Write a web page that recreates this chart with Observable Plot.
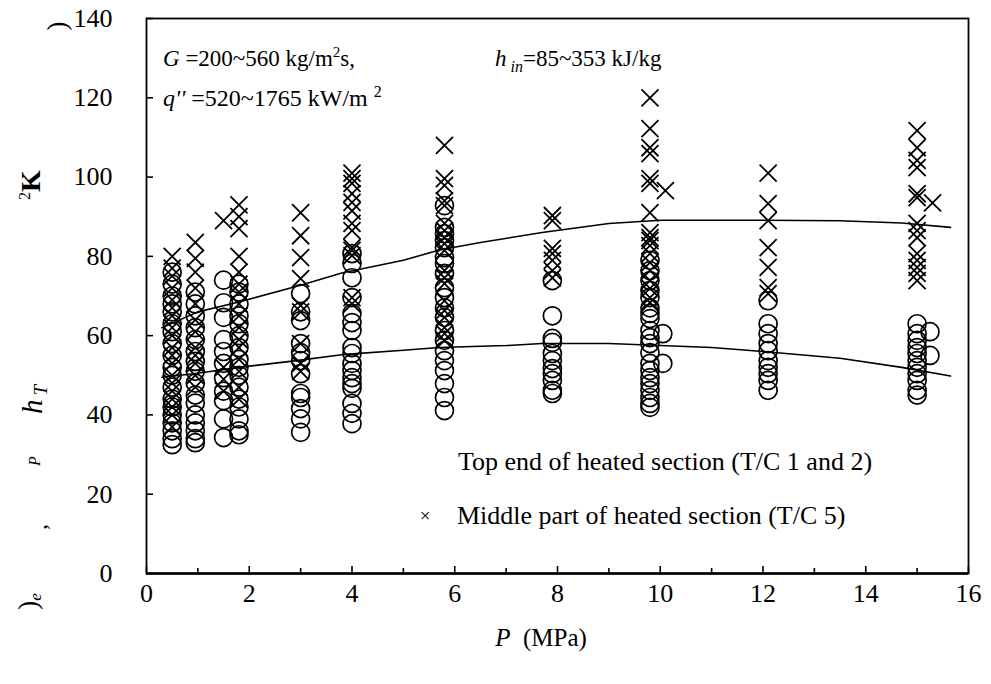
<!DOCTYPE html>
<html>
<head>
<meta charset="utf-8">
<script src="https://cdn.jsdelivr.net/npm/d3@7"></script>
<script src="https://cdn.jsdelivr.net/npm/@observablehq/plot@0.6"></script>
<style>
  body { margin: 0; background: #fff; }
  #chart svg { display: block; }
  #chart svg text, #chart svg tspan { font-family: "Liberation Serif", "Times New Roman", Times, serif; }
</style>
</head>
<body>
<div id="chart"></div>
<script>
// Pressure clusters (MPa)
const topPressures = [0.5, 0.95, 1.5, 1.8, 3.0, 4.0, 5.8, 7.9, 9.8, 10.05, 12.1, 15.0, 15.25];
// Top end of heated section (T/C 1 and 2) – open circles
const topValues = [
  [76, 73, 70, 68, 66, 63, 61, 58, 55, 52, 50, 47, 44, 42, 40, 38, 36, 34, 32.5],
  [71, 68, 65, 62, 59, 56, 53.5, 51, 48, 45, 43, 40, 38, 36, 34, 33],
  [74, 68.3, 64.6, 59, 56, 53, 49.4, 46, 43.6, 39, 34.3],
  [73, 71, 68, 65, 63, 60, 57, 54, 52, 50, 47, 44, 42, 39, 36, 35],
  [70.6, 66, 63.8, 58, 55.7, 53.7, 50.4, 45.4, 44.4, 41.6, 39, 35.6],
  [80.7, 78.2, 74.6, 69.6, 65.6, 63.3, 61.3, 57, 55.5, 53, 51.2, 49.4, 47.9, 46.7, 42.9, 40.4, 37.8],
  [92.8, 87.3, 85.7, 84, 82.2, 79.7, 78.2, 75.7, 72.1, 69.6, 67, 64.6, 61.3, 58.8, 56.2, 53.7, 51.2, 47.9, 44.4, 41.1],
  [73.9, 65, 59.3, 58.3, 55.5, 53.7, 51.7, 50.4, 48.7, 46.2, 45.4],
  [79, 76.4, 73.9, 71.4, 69.6, 67, 65.6, 64.3, 61.3, 59.5, 58, 55.7, 53, 51.2, 49.4, 47.9, 46.2, 44.4, 42.9, 41.9],
  [60.5, 53],
  [68.8, 63, 60.5, 58, 56.2, 53.7, 52, 50.4, 48.7, 46.2],
  [63, 60.5, 58.8, 57, 55.5, 53.7, 52, 50.4, 48.7, 46.2, 45],
  [61, 55]
];
const midPressures = [0.5, 0.95, 1.5, 1.8, 3.0, 4.0, 5.8, 7.9, 9.8, 10.1, 12.1, 15.0, 15.3];
// Middle part of heated section (T/C 5) – crosses
const midValues = [
  [80, 77, 75, 72, 69, 67, 65, 62, 60, 57, 55, 53, 50, 48, 46, 44, 42, 40, 37],
  [83.5, 79.5, 76, 72, 68, 64, 61, 57, 55, 53, 50, 47],
  [89, 52, 49, 46],
  [93, 90, 87, 80, 76, 73, 71, 68, 65, 62, 59, 57, 54, 51, 47, 44],
  [91, 85.2, 79.7, 74.4, 67.6, 66, 58, 53, 51],
  [101, 99.6, 98.4, 95.8, 93.6, 91.5, 88.3, 86.5, 82.2, 81.5, 80.2, 69.6, 68],
  [108, 99.6, 97.9, 94, 92.8, 88.3, 86.5, 84.7, 83.2, 81.5, 76.4, 74.6, 73.1, 68.8, 66.3, 64.6, 62, 60.5, 58.8],
  [90.3, 89, 82, 80.7, 79, 76.4, 74.6],
  [120, 112.2, 107.4, 105.9, 99.6, 98.4, 91, 86, 84.7, 84, 82.7, 80.7, 78.4, 76.4, 73.9, 71.9, 69.6, 68.3],
  [96.6],
  [101, 93.3, 89, 82.2, 77.2, 72.1, 70.6],
  [111.7, 107.4, 104.2, 102.4, 95.8, 94.8, 88.3, 86.5, 84.7, 80.7, 79, 77.2, 75.7, 73.9],
  [93.5]
];
// Correlation curves
const upperP = [0.3, 1, 1.8, 3, 3.8, 5, 5.7, 6.5, 7.7, 9, 10, 12, 13.5, 14.7, 15.65];
const upperH = [62, 66, 68.5, 72.7, 75.8, 79, 81.6, 83.5, 86, 88.3, 89.1, 89.1, 89, 88.4, 87.3];
const lowerP = [0.3, 1, 1.8, 2.8, 3.8, 5, 5.7, 7, 7.7, 9, 10, 11, 12, 13.5, 14.7, 15.65];
const lowerH = [49.5, 50.5, 52, 53.5, 55.2, 56.3, 57, 57.5, 58, 58, 57.5, 57, 56, 54.3, 52, 49.8];

const xMajor = [0, 2, 4, 6, 8, 10, 12, 14, 16];
const xMinor = [1, 3, 5, 7, 9, 11, 13, 15];
const yTicks = [0, 20, 40, 60, 80, 100, 120, 140];

const topPts = topPressures.flatMap((p, i) => topValues[i].map(v => ({p, v})));
const midPts = midPressures.flatMap((p, i) => midValues[i].map(v => ({p, v})));
const upper = upperP.map((p, i) => ({p, v: upperH[i]}));
const lower = lowerP.map((p, i) => ({p, v: lowerH[i]}));

const FONT = '"Liberation Serif", "Times New Roman", Times, serif';

const svg = Plot.plot({
  width: 991,
  height: 684,
  marginLeft: 146,
  marginRight: 23,
  marginTop: 18,
  marginBottom: 111,
  style: `font-family: ${FONT}; font-size: 26px; color: #000; background: #fff;`,
  x: {domain: [0, 16]},
  y: {domain: [0, 140]},
  marks: [
    Plot.frame({stroke: "#000", strokeWidth: 1.8}),
    Plot.ruleY([0], {stroke: "#000", strokeWidth: 2.6}),
    Plot.axisX({ticks: xMajor, tickSize: 7, dy: -7, text: null, label: null, strokeWidth: 1.6}),
    Plot.axisX({ticks: xMinor, tickSize: 5, dy: -5, text: null, label: null, strokeWidth: 1.6}),
    Plot.axisX({ticks: xMajor, tickSize: 0, tickPadding: 10, label: null, fontSize: 26, tickFormat: d => d}),
    Plot.axisY({ticks: yTicks, tickSize: 7, dx: 7, text: null, label: null, strokeWidth: 1.6}),
    Plot.axisY({ticks: yTicks, tickSize: 0, tickPadding: 34, label: null, fontSize: 26, tickFormat: d => d}),
    Plot.line(upper, {x: "p", y: "v", stroke: "#000", strokeWidth: 1.6, curve: "linear"}),
    Plot.line(lower, {x: "p", y: "v", stroke: "#000", strokeWidth: 1.6, curve: "linear"}),
    Plot.dot(topPts, {x: "p", y: "v", r: 9, stroke: "#000", fill: "none", strokeWidth: 1.7}),
    Plot.dot(midPts, {x: "p", y: "v", symbol: "times", r: 7.8, stroke: "#000", strokeWidth: 1.8})
  ]
});
document.getElementById("chart").appendChild(svg);

const s = d3.select(svg);
const g = s.append("g").attr("font-family", FONT).attr("fill", "#000").attr("text-anchor", "start");

// Parameter annotations
const t1 = g.append("text").attr("x", 163).attr("y", 66).attr("font-size", 23);
t1.append("tspan").attr("font-style", "italic").text("G");
t1.append("tspan").text(" =200~560 kg/m");
t1.append("tspan").attr("dy", -9).attr("font-size", 15).text("2");
t1.append("tspan").attr("dy", 9).text("s,");

const t2 = g.append("text").attr("x", 495).attr("y", 66).attr("font-size", 23);
t2.append("tspan").attr("font-style", "italic").text("h");
t2.append("tspan").attr("dy", 6).attr("font-size", 16).attr("font-style", "italic").text(" in");
t2.append("tspan").attr("dy", -6).text("=85~353 kJ/kg");

const t3 = g.append("text").attr("x", 163).attr("y", 106).attr("font-size", 24);
t3.append("tspan").attr("font-style", "italic").text("q''");
t3.append("tspan").text(" =520~1765 kW/m ");
t3.append("tspan").attr("dy", -9).attr("font-size", 16).text("2");

// Legend
g.append("text").attr("x", 458).attr("y", 470).attr("font-size", 26)
  .text("Top end of heated section (T/C 1 and 2)");
g.append("text").attr("x", 425).attr("y", 522).attr("font-size", 19)
  .attr("font-family", "'DejaVu Sans', sans-serif").attr("text-anchor", "middle").text("×");
g.append("text").attr("x", 457).attr("y", 524).attr("font-size", 26)
  .text("Middle part of heated section (T/C 5)");

// X axis title
const xt = g.append("text").attr("x", 541).attr("y", 646).attr("font-size", 25).attr("text-anchor", "middle");
xt.append("tspan").attr("font-style", "italic").text("P");
xt.append("tspan").text("  (MPa)");

// Fragmented (clipped) y-axis title pieces, rotated
function rot(x, y) {
  return g.append("text").attr("transform", `translate(${x},${y}) rotate(-90)`);
}
rot(66, 26).attr("font-size", 28).attr("text-anchor", "middle").text(")");
const k = rot(40, 200);
k.append("tspan").attr("dy", -10).attr("font-size", 16).text("2");
k.append("tspan").attr("dy", 10).attr("font-size", 28).attr("font-weight", "bold").text("K");
const h = rot(42, 414);
h.append("tspan").attr("font-size", 29).attr("font-style", "italic").text("h");
h.append("tspan").attr("dy", 5).attr("dx", 4).attr("font-size", 19).attr("font-style", "italic").text("T");
rot(40, 466).attr("font-size", 16).attr("font-style", "italic").text("P");
rot(46, 530).attr("font-size", 24).text(",");
const e = rot(37, 610);
e.append("tspan").attr("font-size", 28).text(")");
e.append("tspan").attr("dy", 4).attr("font-size", 17).attr("font-style", "italic").text("e");
</script>
</body>
</html>
